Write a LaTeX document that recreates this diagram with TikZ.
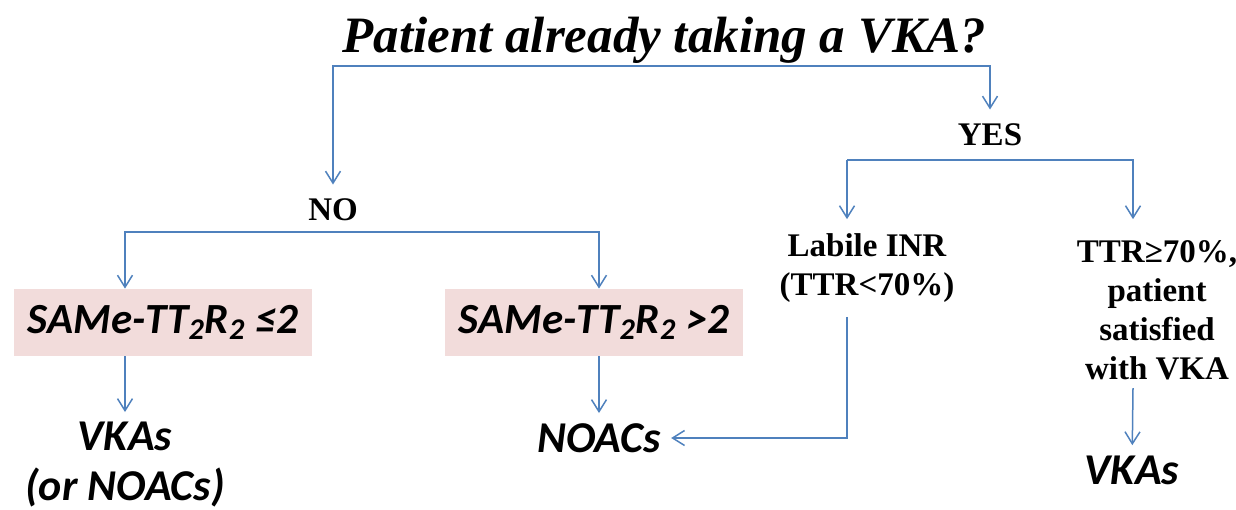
\documentclass[tikz,border=0pt]{standalone}
\usepackage{fontspec}
\setmainfont{Liberation Serif}
\newfontfamily\calibri{Carlito}
\usetikzlibrary{arrows.meta}
\definecolor{flowblue}{RGB}{79,129,189}
\definecolor{scorepink}{RGB}{242,220,219}

\begin{document}
\begin{tikzpicture}[x=0.5pt, y=-0.5pt,
	question/.style={font=\fontsize{25.5}{30}\selectfont\bfseries\itshape, inner sep=0pt},
	answer/.style={font=\fontsize{16.5}{19.5}\selectfont\bfseries, align=center, inner sep=7pt},
	scorebox/.style={fill=scorepink, minimum width=149pt, minimum height=33.5pt, inner sep=0pt, font=\calibri\fontsize{21.5}{26}\selectfont\bfseries\itshape},
	outcome/.style={font=\calibri\fontsize{22}{25}\selectfont\bfseries\itshape, align=center, inner sep=5pt},
	flow/.style={draw=flowblue, line width=0.75pt, -{Straight Barb[length=6pt,width=7.5pt]}}]
	\useasboundingbox (0,0) rectangle (1236,509);
	
	\node[question] (vka) at (664,40) {Patient already taking a VKA?};
	\coordinate (qfork) at (662,66);
	
	\node[answer] (no) at (333,210) {NO};
	\node[answer] (yes) at (990,135) {YES};
	\coordinate (nofork) at (361,232);
	\coordinate (ycolL) at (847,160);
	\coordinate (ycolR) at (1133,160);
	
	\node[scorebox] (lowscore) at (163,322.5) {SAMe-TT\textsubscript{2}R\textsubscript{2} ≤2};
	\node[scorebox] (highscore) at (594,322.5) {SAMe-TT\textsubscript{2}R\textsubscript{2} >2};
	\node[answer] (labile) at (867,268) {Labile INR\\(TTR<70\%)};
	\node[answer, inner sep=4pt] (stable) at (1157,310) {TTR≥70\%,\\patient\\satisfied\\with VKA};
	
	\node[outcome] (vkaA) at (125,465) {VKAs\\(or NOACs)};
	\node[outcome] (noacs) at (599,438) {NOACs};
	\node[outcome] (vkaB) at (1132,470) {VKAs};
	
	\draw[flow] (qfork) -| (no);
	\draw[flow] (qfork) -| (yes);
	\draw[flow] (nofork) -| (vkaA |- lowscore.north);
	\draw[flow] (nofork) -| (noacs |- highscore.north);
	\draw[flow] (ycolL) -- (ycolL |- labile.north);
	\draw[flow] (ycolL) -| (ycolR |- labile.north);
	
	\draw[flow] (lowscore.south -| vkaA) -- (vkaA);
	\draw[flow] (highscore.south -| noacs) -- (noacs);
	\draw[flow] (labile.south -| ycolL) |- (noacs);
	\draw[flow] (stable.south -| ycolR) -- (vkaB);
\end{tikzpicture}
\end{document}
